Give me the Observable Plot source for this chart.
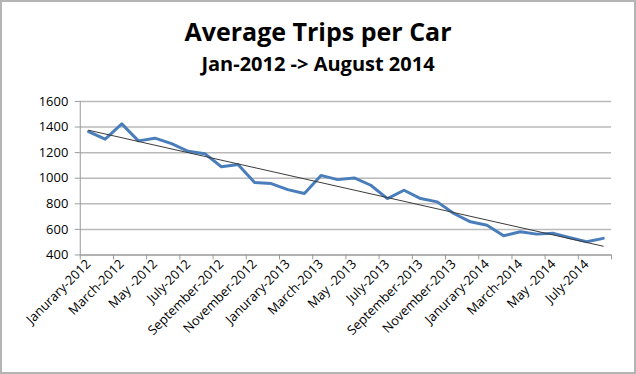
<!DOCTYPE html>
<html><head><meta charset="utf-8">
<script src="https://cdn.jsdelivr.net/npm/d3@7"></script>
<script src="https://cdn.jsdelivr.net/npm/@observablehq/plot@0.6"></script>
<style>
body{margin:0;background:#fff;}
#wrap{position:relative;width:636px;height:374px;box-sizing:border-box;border:2px solid #b4b4b4;overflow:hidden;font-family:"Open Sans",sans-serif;background:#fff;}
#title{position:absolute;left:-2px;width:636px;top:13px;text-align:center;font-weight:bold;font-size:25px;line-height:32px;color:#000;}
#sub{position:absolute;left:-2px;width:636px;top:50px;text-align:center;font-weight:bold;font-size:20px;line-height:24px;color:#000;}
#chart{position:absolute;left:-2px;top:88px;}
</style></head>
<body>
<div id="wrap">
  <div id="title">Average Trips per Car</div>
  <div id="sub">Jan-2012 -&gt; August 2014</div>
  <div id="chart"></div>
</div>
<script>
const months = ["Jan-2012","Feb-2012","Mar-2012","Apr-2012","May-2012","Jun-2012","Jul-2012","Aug-2012","Sep-2012","Oct-2012","Nov-2012","Dec-2012",
  "Jan-2013","Feb-2013","Mar-2013","Apr-2013","May-2013","Jun-2013","Jul-2013","Aug-2013","Sep-2013","Oct-2013","Nov-2013","Dec-2013",
  "Jan-2014","Feb-2014","Mar-2014","Apr-2014","May-2014","Jun-2014","Jul-2014","Aug-2014"];
const trips = [1365,1305,1425,1292,1313,1270,1210,1192,1090,1108,966,958,
  911,880,1022,989,1002,945,841,906,841,815,724,659,
  633,550,581,563,569,535,504,530];
const tickLabels = ["Janurary-2012","March-2012","May -2012","July-2012","September-2012","November-2012",
  "Janurary-2013","March-2013","May -2013","July-2013","September-2013","November-2013",
  "Janurary-2014","March-2014","May -2014","July-2014"];
const yTicks = [400,600,800,1000,1200,1400,1600];

const data = months.map((m, i) => ({i, month: m, value: trips[i]}));
const labelPos = tickLabels.map((_, k) => k * 2);
const boundaries = d3.range(0, months.length / 2 + 1).map(k => k * 2 - 0.5);

const chart = Plot.plot({
  width: 636, height: 284,
  marginTop: 11, marginBottom: 119, marginLeft: 80, marginRight: 23,
  style: {fontFamily: "'Open Sans', sans-serif", color: "#000", background: "transparent"},
  x: {domain: [-0.5, months.length - 0.5]},
  y: {domain: [400, 1600]},
  marks: [
    Plot.gridY(yTicks, {stroke: "#bababa", strokeOpacity: 1, strokeWidth: 1.5}),
    Plot.ruleX([-0.5], {stroke: "#9a9a9a"}),
    Plot.ruleY([400], {stroke: "#9a9a9a"}),
    Plot.axisY(yTicks, {tickSize: 5, tickPadding: 7, fontSize: 13, stroke: "#9a9a9a", fill: "#000", label: null,
      tickFormat: d => String(d)}),
    Plot.axisX(boundaries, {tickSize: 5, tickFormat: () => "", stroke: "#9a9a9a", label: null}),
    Plot.axisX(labelPos, {tickSize: 0, tickPadding: 7, tickRotate: -45, fontSize: 13, fill: "#000",
      tickFormat: (d) => tickLabels[d / 2], label: null}),
    Plot.line(data, {x: "i", y: "value", stroke: "#4a7ebb", strokeWidth: 3, strokeLinejoin: "round"}),
    Plot.linearRegressionY(data, {x: "i", y: "value", ci: 0, stroke: "#3a3a3a", strokeWidth: 1})
  ]
});
document.getElementById("chart").appendChild(chart);
</script>
</body></html>
